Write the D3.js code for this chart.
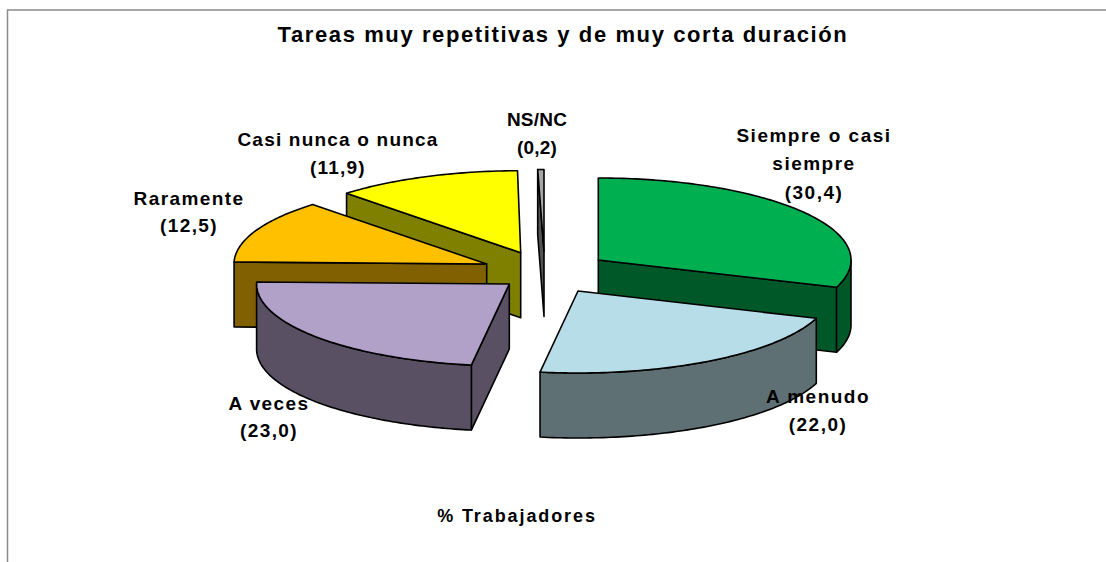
<!DOCTYPE html>
<html><head><meta charset="utf-8">
<script src="https://cdn.jsdelivr.net/npm/d3@7/dist/d3.min.js"></script>
<style>html,body{margin:0;padding:0;background:#fff}svg{display:block}
text{font-family:"Liberation Sans",Arial,sans-serif;font-weight:bold;fill:#000;text-anchor:middle}</style>
</head><body><div id="chart"></div>
<script>
const categories = ["Siempre o casi siempre","A menudo","A veces","Raramente","Casi nunca o nunca","NS/NC"];
const values = [30.4,22.0,23.0,12.5,11.9,0.2];
const topColors = ["#00B050","#B7DEE8","#B1A0C7","#FFC000","#FFFF00","#A6A6A6"];
const wallColors = ["#005828","#5F7074","#5A5064","#806000","#808000","#535353"];
const titleText = "Tareas muy repetitivas y de muy corta duración";
const axisText = "% Trabajadores";

// layout
const W=1106,H=562, base={x:552,y:273}, rx=252.7, ry=82, depth=65;
const minSweep=1.43*Math.PI/180; // thinnest slice still shows its top face
const explode=[[46.3,-13],[26,18],[-42.7,11],[-65.3,-9],[-31.3,-20.3],[-8,-21.5]];
const paintOrder=[5,0,4,3,2,1];
const labelLayout=[
 {x:814,ls:1.5,lines:[["Siempre o casi",142],["siempre",170],["(30,4)",199]]},
 {x:818,ls:1.5,lines:[["A menudo",403],["(22,0)",431]]},
 {x:269,ls:1.4,lines:[["A veces",410],["(23,0)",437]]},
 {x:189,ls:1.4,lines:[["Raramente",205],["(12,5)",232]]},
 {x:338,ls:1.2,lines:[["Casi nunca o nunca",146],["(11,9)",174]]},
 {x:537,ls:0.2,lines:[["NS/NC",126],["(0,2)",154]]}
];

const svg=d3.select("#chart").append("svg").attr("width",W).attr("height",H);
svg.append("rect").attr("width",W).attr("height",H).attr("fill","#fff");
svg.append("path").attr("d",`M7.5,${H}V10H${W}`).attr("fill","none").attr("stroke","#8a8a8a").attr("stroke-width",1.5);

const arcs=d3.pie().value(d=>d).sort(null).startAngle(0).endAngle(2*Math.PI)(values);
const line=d3.line();
const pt=(c,a,dz=0)=>[c[0]+rx*Math.sin(a),c[1]-ry*Math.cos(a)+dz];
const sample=(c,a0,a1,dz=0)=>{const n=Math.max(2,Math.ceil(Math.abs(a1-a0)*60));
  return d3.range(n+1).map(i=>pt(c,a0+(a1-a0)*i/n,dz));};
const g=svg.append("g").attr("stroke","#000").attr("stroke-width",1.6).attr("stroke-linejoin","round");

paintOrder.forEach(i=>{
  const d=arcs[i], a1=d.endAngle, a0=Math.min(d.startAngle,a1-minSweep);
  const c=[base.x+explode[i][0],base.y+explode[i][1]];
  const wall=wallColors[i], top=topColors[i];
  const sl=g.append("g").attr("class","slice");
  const radial=a=>{const p=pt(c,a);
    sl.append("path").attr("fill",wall).attr("d",line([c,p,[p[0],p[1]+depth],[c[0],c[1]+depth]])+"Z");};
  if(Math.sin(a0)<-1e-6) radial(a0);
  if(Math.sin(a1)>1e-6) radial(a1);
  const s=Math.max(a0,Math.PI/2), e=Math.min(a1,3*Math.PI/2);
  if(e>s){
    const upper=sample(c,s,e), lower=sample(c,s,e,depth).reverse();
    sl.append("path").attr("fill",wall).attr("d",line(upper.concat(lower))+"Z");
  }
  sl.append("path").attr("fill",top).attr("d",line([c].concat(sample(c,a0,a1)))+"Z");
});

const t=svg.append("g");
t.append("text").attr("x",563).attr("y",42).attr("font-size",22).attr("letter-spacing",1.6).text(titleText);
t.append("text").attr("x",517).attr("y",522).attr("font-size",18).attr("letter-spacing",1.9).text(axisText);
labelLayout.forEach(l=>l.lines.forEach(([s,y])=>{
  t.append("text").attr("x",l.x).attr("y",y).attr("font-size",19).attr("letter-spacing",l.ls).text(s);
}));
</script></body></html>
